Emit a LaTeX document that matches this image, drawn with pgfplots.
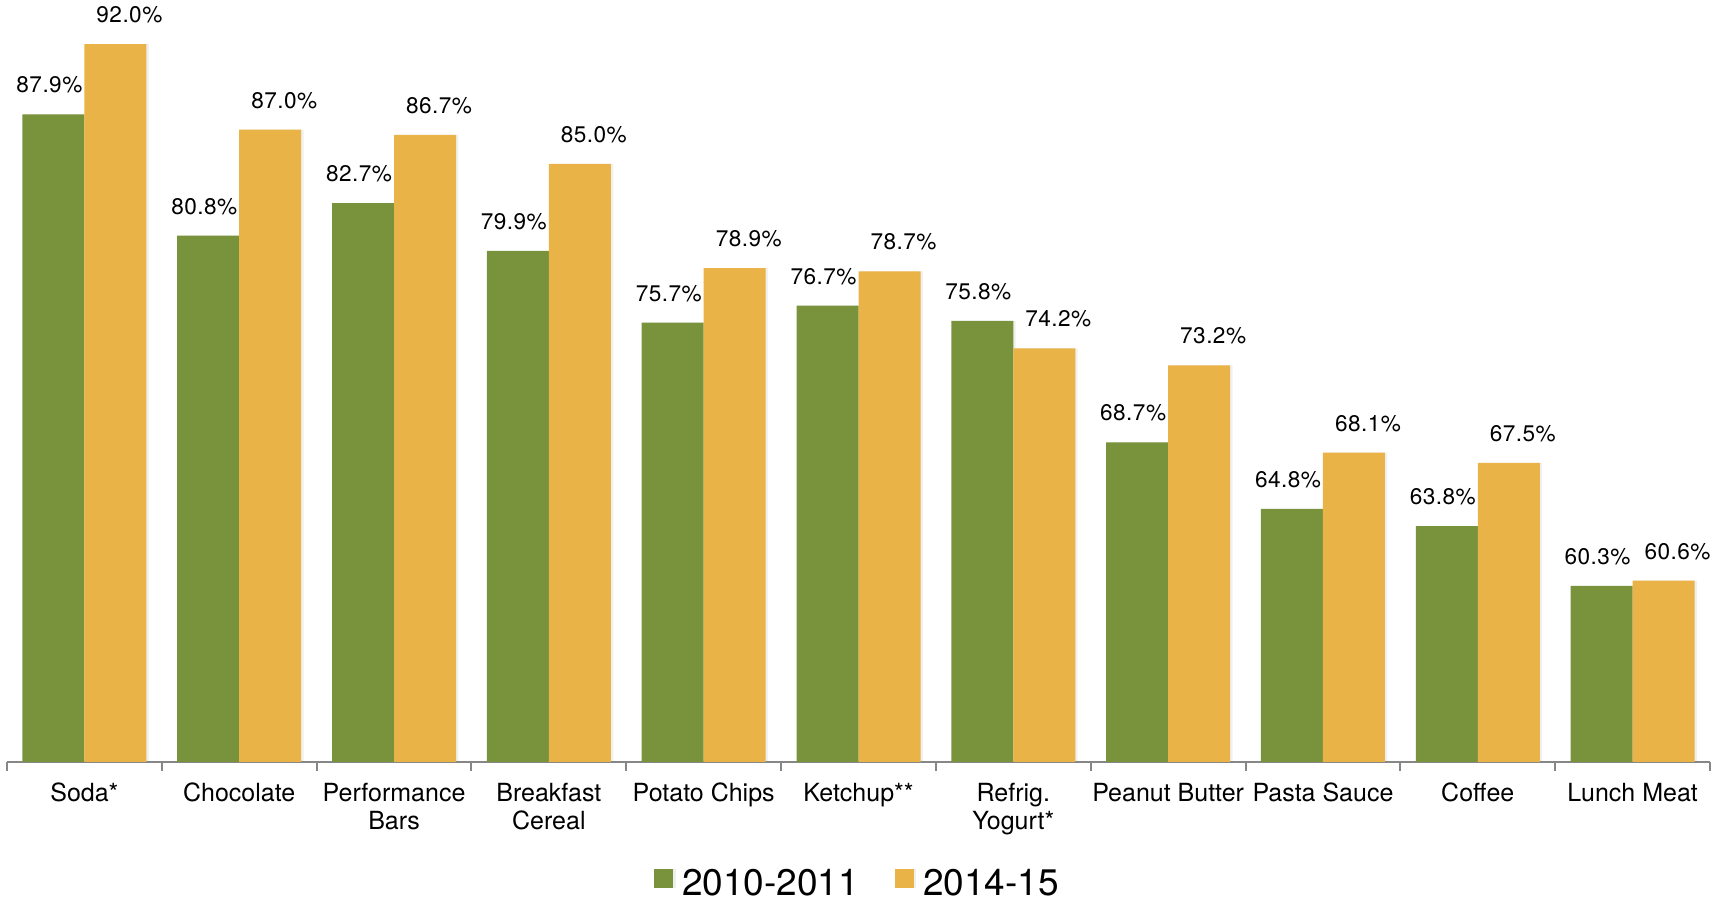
\documentclass[border=0pt]{standalone}
\usepackage{pgfplots}
\pgfplotsset{compat=1.18}
\usetikzlibrary{shadows}
\usepackage{fontspec}
\setmainfont{TeX Gyre Heros}

\definecolor{olive}{RGB}{120,147,60}
\definecolor{mustard}{RGB}{233,179,72}
\definecolor{axgray}{RGB}{135,135,135}

% old / new survey values per category (0..10)
\pgfplotstableread{
x  old   new
0  87.9  92.0
1  80.8  87.0
2  82.7  86.7
3  79.9  85.0
4  75.7  78.9
5  76.7  78.7
6  75.8  74.2
7  68.7  73.2
8  64.8  68.1
9  63.8  67.5
10 60.3  60.6
}\shares

\begin{document}
\begin{tikzpicture}
\begin{axis}[
    scale only axis,
    width=851.5pt,
    height=381pt,
    ybar=0pt,
    bar width=31pt,
    ymin=50, ymax=94.6,
    xmin=-0.5, xmax=10.5,
    axis y line=none,
    axis x line*=bottom,
    x axis line style={axgray, line width=1pt},
    xtick={0,...,10},
    major tick length=0pt,
    tick align=outside,
    xticklabels={Soda*, Chocolate, Performance\\Bars, Breakfast\\Cereal,
        Potato Chips, Ketchup**, Refrig.\\Yogurt*, Peanut Butter,
        Pasta Sauce, Coffee, Lunch Meat},
    xticklabel style={align=center, font=\fontsize{12.5}{14}\selectfont, yshift=-7pt},
    extra x ticks={-0.5,0.5,...,10.5},
    extra x tick labels={},
    extra x tick style={major tick length=4.5pt,
        tick style={axgray, line width=1pt}},
    /pgf/number format/assume math mode=true,
    nodes near coords={\pgfmathprintnumber[fixed,fixed zerofill,precision=1]{\pgfplotspointmeta}\%},
    every node near coord/.append style={font=\fontsize{11.3}{13}\selectfont\addfontfeature{LetterSpace=2},
        black, yshift=7pt},
    clip=false,
    legend style={draw=none, at={(0.5,-0.13)}, anchor=north, legend columns=2,
        font=\fontsize{18.5}{20}\selectfont,
        /tikz/every even column/.append style={column sep=16pt}},
    legend image code/.code={\fill[#1] (0pt,-2pt) rectangle (9.5pt,7.5pt); \path (12pt,0pt);},
]
\addplot[fill=olive, draw=none,
    drop shadow={shadow xshift=1.2pt, shadow yshift=0pt, opacity=0.12},
    every node near coord/.append style={xshift=-2pt}] table[x=x, y=old] {\shares};
\addplot[fill=mustard, draw=none,
    drop shadow={shadow xshift=1.2pt, shadow yshift=0pt, opacity=0.12},
    every node near coord/.append style={xshift=7pt}] table[x=x, y=new] {\shares};
\legend{2010-2011, 2014-15}
\end{axis}
\path (current axis.south west) ++(-3.5pt,0pt) (current axis.south east) ++(8.5pt,0pt);
\end{tikzpicture}
\end{document}
